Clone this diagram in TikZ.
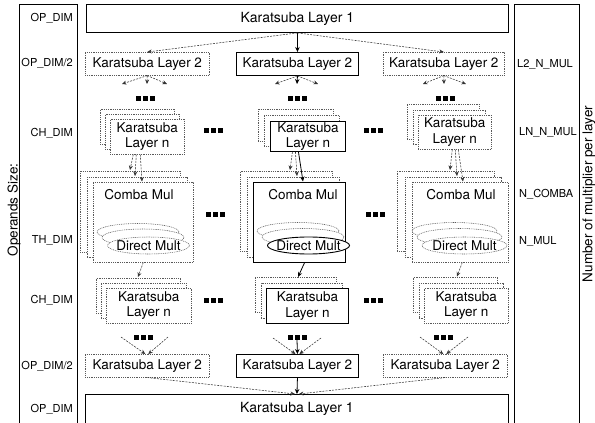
\documentclass[tikz,border=0pt]{standalone}
\usepackage{fontspec}
\setmainfont{TeX Gyre Heros}
\usetikzlibrary{arrows.meta,shapes.geometric}
\newcommand\boxat[7]{%
  \node[#1, anchor=north west, minimum width={(#5-#3)*1pt}, minimum height={(#6-#4)*1pt}, inner sep=0pt, align=center] (#2) at (#3,#4) {#7};}
\newcommand\tridots{\rule{5pt}{5pt}\hspace{2pt}\rule{5pt}{5pt}\hspace{2pt}\rule{5pt}{5pt}}
\begin{document}
\begin{tikzpicture}[x=1pt,y=-1pt,
  dbox/.style={draw=black!65, dash pattern=on 0.9pt off 0.9pt, line width=0.55pt, fill=white, main},
  sbox/.style={draw=black, line width=0.9pt, fill=white, main},
  frame/.style={draw=black, line width=0.8pt},
  main/.style={font=\fontsize{13.5}{15.5}\selectfont},
  side/.style={font=\fontsize{11}{13}\selectfont, inner sep=0pt},
  darr/.style={draw=black!80, dash pattern=on 2pt off 1.2pt, line width=0.55pt, -{Stealth[length=4.5pt,width=4pt]}},
  sarr/.style={draw=black, line width=0.8pt, -{Stealth[length=5pt,width=4.5pt]}},
  dts/.style={inner sep=0pt, font=\fontsize{5}{5}\selectfont},
  ell/.style={ellipse, minimum width=82pt, minimum height=17pt, inner sep=0pt}
]
\useasboundingbox (0,0) rectangle (595,423);

% side frames
\boxat{frame}{leftcol}{19}{4}{77}{422.5}{}
\boxat{frame}{rightcol}{514}{4}{579}{422.5}{}
\node[main, rotate=90] (opsize) at (14,210) {Operands Size:};
\node[main, rotate=90] (nmul) at (589,194) {Number of multiplier per layer};
\node[side, anchor=east] (s1) at (73,18) {OP\_DIM};
\node[side, anchor=east] (s2) at (73,63.5) {OP\_DIM/2};
\node[side, anchor=east] (s3) at (73,133) {CH\_DIM};
\node[side, anchor=east] (s4) at (73,240) {TH\_DIM};
\node[side, anchor=east] (s5) at (73,300) {CH\_DIM};
\node[side, anchor=east] (s6) at (73,366) {OP\_DIM/2};
\node[side, anchor=east] (s7) at (73,409) {OP\_DIM};
\node[side, anchor=west] (r1) at (517,64) {L2\_N\_MUL};
\node[side, anchor=west] (r2) at (519,132) {LN\_N\_MUL};
\node[side, anchor=west] (r3) at (519,194) {N\_COMBA};
\node[side, anchor=west] (r4) at (519,241) {N\_MUL};

% top layers
\boxat{sbox, font=\fontsize{14}{16}\selectfont}{L1}{86}{4}{508}{32}{Karatsuba Layer 1}
\boxat{dbox}{L2a}{85}{52}{209}{75}{Karatsuba Layer 2}
\boxat{sbox}{L2b}{236}{52}{358}{75}{Karatsuba Layer 2}
\boxat{dbox}{L2c}{383}{52}{504}{75}{Karatsuba Layer 2}

\node[dts] (dA) at (145,98) {\tridots};
\node[dts] (dB) at (297,98) {\tridots};
\node[dts] (dC) at (445,98) {\tridots};

% left column
\boxat{dbox}{kLb}{100}{109}{174}{144}{}
\boxat{dbox}{kLm}{105}{114}{179}{149}{}
\boxat{dbox}{kLf}{110}{119}{184}{154}{Karatsuba\\Layer n}
\boxat{dbox}{cLb}{80}{171}{180}{252}{}
\boxat{dbox}{cLm}{86.5}{176.5}{186.5}{257}{}
\boxat{dbox}{cLf}{93}{182}{193}{262}{}
\node[main] (cLt) at (139,195) {Comba Mul};
\node[dbox, ell] (eLb) at (138,232) {};
\node[dbox, ell] (eLm) at (143,237.5) {};
\node[dbox, ell] (eLf) at (148.5,245.5) {\makebox[0pt]{Direct Mult}};
\boxat{dbox}{kL2b}{96}{278}{180}{313}{}
\boxat{dbox}{kL2m}{101}{283}{185.5}{318}{}
\boxat{dbox}{kL2f}{106}{288}{191}{323}{Karatsuba\\Layer n}

% middle column
\boxat{dbox}{kMb}{258}{109}{333}{141}{}
\boxat{dbox}{kMm}{264}{115}{339}{146}{}
\boxat{sbox}{kMf}{270}{121}{345}{151}{Karatsuba\\Layer n}
\boxat{dbox}{cMb}{240}{171}{332}{251}{}
\boxat{dbox}{cMm}{246.5}{176.5}{338.5}{256.5}{}
\boxat{sbox}{cMf}{253}{182}{345}{262}{}
\node[main] (cMt) at (303,195) {Comba Mul};
\node[dbox, ell] (eMb) at (298,231) {};
\node[dbox, ell] (eMm) at (303,237) {};
\node[sbox, ell] (eMf) at (308.5,245.5) {\makebox[0pt]{Direct Mult}};
\boxat{dbox}{kM2b}{255}{277}{336}{312}{}
\boxat{dbox}{kM2m}{260.5}{282.5}{342}{317.5}{}
\boxat{sbox}{kM2f}{266}{288}{348}{323}{Karatsuba\\Layer n}

% right column
\boxat{dbox}{kRb}{407}{104}{479}{139}{}
\boxat{dbox}{kRm}{412.5}{109.5}{485}{144}{}
\boxat{dbox}{kRf}{418}{115}{491}{149}{Karatsuba\\Layer n}
\boxat{dbox}{cRb}{397}{171}{494}{251}{}
\boxat{dbox}{cRm}{404.5}{176.5}{501}{256.5}{}
\boxat{dbox}{cRf}{412}{182}{508}{262}{}
\node[main] (cRt) at (461,195) {Comba Mul};
\node[dbox, ell, minimum width=85pt] (eRb) at (454.5,231) {};
\node[dbox, ell, minimum width=85pt] (eRm) at (459.5,237) {};
\node[dbox, ell, minimum width=85pt] (eRf) at (464.5,245.5) {\makebox[0pt]{Direct Mult}};
\boxat{dbox}{kR2b}{413}{277}{497}{312}{}
\boxat{dbox}{kR2m}{418.5}{282.5}{502.5}{317.5}{}
\boxat{dbox}{kR2f}{424}{288}{508}{323}{Karatsuba\\Layer n}

% horizontal dots
\node[dts] (h1) at (213,130) {\tridots};
\node[dts] (h2) at (373,130) {\tridots};
\node[dts] (h3) at (215,214) {\tridots};
\node[dts] (h4) at (375,214) {\tridots};
\node[dts] (h5) at (213,300) {\tridots};
\node[dts] (h6) at (373,300) {\tridots};

% bottom layers
\node[dts] (dA2) at (143,337) {\tridots};
\node[dts] (dB2) at (297,337) {\tridots};
\node[dts] (dC2) at (443,337) {\tridots};
\boxat{dbox}{L2a2}{85}{354}{209}{377}{Karatsuba Layer 2}
\boxat{sbox}{L2b2}{236}{354}{358}{377}{Karatsuba Layer 2}
\boxat{dbox}{L2c2}{383}{354}{507}{377}{Karatsuba Layer 2}
\boxat{sbox, font=\fontsize{14}{16}\selectfont}{L1b}{85}{394}{508}{422.5}{Karatsuba Layer 1}

% coordinates
\coordinate (a1) at (122,84); \coordinate (a2) at (147,84); \coordinate (a3) at (167,84);
\coordinate (b1) at (275,84); \coordinate (b2) at (297,84); \coordinate (b3) at (318,84);
\coordinate (c1) at (423,84); \coordinate (c2) at (444,84); \coordinate (c3) at (466,84);
\coordinate (lk1) at (130,170); \coordinate (lk2) at (135,176); \coordinate (lk3) at (142,181.5);
\coordinate (mk1) at (290,170); \coordinate (mk2) at (297,176); \coordinate (mk3) at (303,181.5);
\coordinate (rk1) at (450,170); \coordinate (rk2) at (457,176); \coordinate (rk3) at (463,181.5);
\coordinate (lc) at (138,277); \coordinate (mc) at (298,277); \coordinate (rc) at (457,276.5);
\coordinate (l1) at (121,337); \coordinate (l2) at (168,337);
\coordinate (m1) at (273,338); \coordinate (m2) at (321,338);
\coordinate (q1) at (420,337); \coordinate (q2) at (468,337);

% arrows top
\draw[sarr] (L1.south) -- (L2b.north);
\draw[darr] (L1.south) -- (L2a.north);
\draw[darr] (L1.south) -- (L2c.north);
\draw[darr] (L2a.south) -- (a1); \draw[darr] (L2a.south) -- (a2); \draw[darr] (L2a.south) -- (a3);
\draw[darr] (L2b.south) -- (b1); \draw[sarr] (L2b.south) -- (b2); \draw[darr] (L2b.south) -- (b3);
\draw[darr] (L2c.south) -- (c1); \draw[darr] (L2c.south) -- (c2); \draw[darr] (L2c.south) -- (c3);

% K -> Comba
\draw[darr] ([xshift=-14pt]kLf.south) -- (lk1);
\draw[darr] ([xshift=-11pt]kLf.south) -- (lk2);
\draw[darr] ([xshift=-7pt]kLf.south) -- (lk3);
\draw[darr] ([xshift=-15.5pt]kMf.south) -- (mk1);
\draw[darr] ([xshift=-12.5pt]kMf.south) -- (mk2);
\draw[sarr] ([xshift=-9.5pt]kMf.south) -- (mk3);
\draw[darr] ([xshift=-2.5pt]kRf.south) -- (rk1);
\draw[darr] ([xshift=0.5pt]kRf.south) -- (rk2);
\draw[darr] ([xshift=3.5pt]kRf.south) -- (rk3);

% Comba -> K
\draw[darr] (cLf.south) -- (lc);
\draw[sarr] ([xshift=5pt]cMf.south) -- (mc);
\draw[darr] ([xshift=2pt]cRf.south) -- (rc);

% converge to bottom L2
\draw[darr] (l1) -- ([xshift=-2pt]L2a2.north);
\draw[darr] (l2) -- ([xshift=1pt]L2a2.north);
\draw[darr] (m1) -- ([xshift=-2pt]L2b2.north);
\draw[darr] (m2) -- ([xshift=2pt]L2b2.north);
\draw[sarr] (dB2.south) -- (L2b2.north);
\draw[darr] (q1) -- ([xshift=-2pt]L2c2.north);
\draw[darr] (q2) -- ([xshift=1pt]L2c2.north);

% to bottom L1
\draw[sarr] (L2b2.south) -- (L1b.north);
\draw[darr] (L2a2.south) -- ([xshift=-2pt]L1b.north);
\draw[darr] (L2c2.south) -- ([xshift=2pt]L1b.north);
\end{tikzpicture}
\end{document}
